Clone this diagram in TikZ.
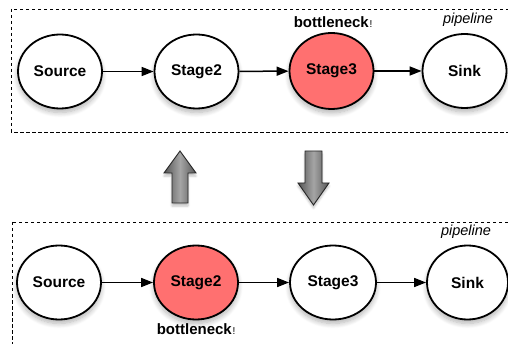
\documentclass[tikz,border=0pt]{standalone}
\usepackage{fontspec}
\setmainfont{Liberation Sans}
\usetikzlibrary{shapes.geometric,arrows.meta,shadows.blur}

\definecolor{hotred}{RGB}{255,112,112}
\definecolor{arrowgrey}{RGB}{85,85,85}
\definecolor{arrowlight}{RGB}{165,165,165}

\begin{document}
\begin{tikzpicture}[x=1pt,y=-1pt,
  stage/.style={ellipse, draw=black, line width=1.8pt, fill=white,
    minimum width=84pt, minimum height=74pt, inner sep=0pt,
    font=\bfseries\fontsize{15.5}{18}\selectfont,
    blur shadow={shadow xshift=0pt, shadow yshift=-4pt,
      shadow blur steps=8, shadow blur radius=5pt, shadow opacity=30}},
  hot/.style={stage, fill=hotred},
  flow/.style={-{Triangle[length=12pt,width=9pt]}, line width=1.5pt},
  frame/.style={draw=black, dash pattern=on 3.5pt off 2.5pt, line width=0.7pt},
  note/.style={font=\bfseries\fontsize{15}{17}\selectfont, inner sep=0pt},
  tag/.style={font=\itshape\fontsize{14.5}{16}\selectfont, inner sep=0pt},
  bang/.style={font=\fontsize{10}{11}\selectfont, inner sep=0pt},
  bigarrow/.style={draw=black!85, line width=0.9pt,
    left color=arrowgrey, right color=arrowgrey, middle color=arrowlight,
    blur shadow={shadow xshift=0pt, shadow yshift=-3pt, shadow opacity=25}}
]
\useasboundingbox (0,0) rectangle (508,344);

% two pipeline frames
\draw[frame] (11,9) rectangle (530,132);
\draw[frame] (12,222) rectangle (530,360);
\node[tag] (tagtop) at (468,19.5) {pipeline};
\node[tag] (tagbot) at (466,232) {pipeline};

% upper pipeline: Stage3 is the bottleneck
\node[stage] (a1) at (60,71.5)  {Source};
\node[stage] (a2) at (196.5,71.5) {Stage2};
\node[hot, minimum height=76pt] (a3) at (331.5,71) {Stage3};
\node[stage] (a4) at (464.5,71) {Sink};
\draw[flow] (a1) -- (a2);
\draw[flow] (a2) -- (a3);
\draw[flow] (a3) -- (a4);
\node[note, anchor=base east] (n1) at (369,28) {bottleneck};
\node[bang, anchor=base west] (b1) at ([xshift=0.5pt]n1.base east) {!};

% lower pipeline: Stage2 is the bottleneck
\node[stage] (c1) at (59,282.5)  {Source};
\node[hot] (c2) at (196,282.5) {Stage2};
\node[stage, minimum width=86pt] (c3) at (333,282.5) {Stage3};
\node[stage, minimum width=81pt] (c4) at (467.5,282.5) {Sink};
\draw[flow] (c1) -- (c2);
\draw[flow] (c2) -- (c3);
\draw[flow] (c3) -- (c4);
\node[note, anchor=base east] (n2) at (232,334) {bottleneck};
\node[bang, anchor=base west] (b2) at ([xshift=0.5pt]n2.base east) {!};

% transition arrows between the two states
\path[bigarrow] (172,203) -- (172,173) -- (164,173) -- (180,151)
  -- (196,173) -- (188,173) -- (188,203) -- cycle;
\path[bigarrow] (305,151) -- (322,151) -- (322,183) -- (329,183)
  -- (313.5,205) -- (298,183) -- (305,183) -- cycle;
\end{tikzpicture}
\end{document}
